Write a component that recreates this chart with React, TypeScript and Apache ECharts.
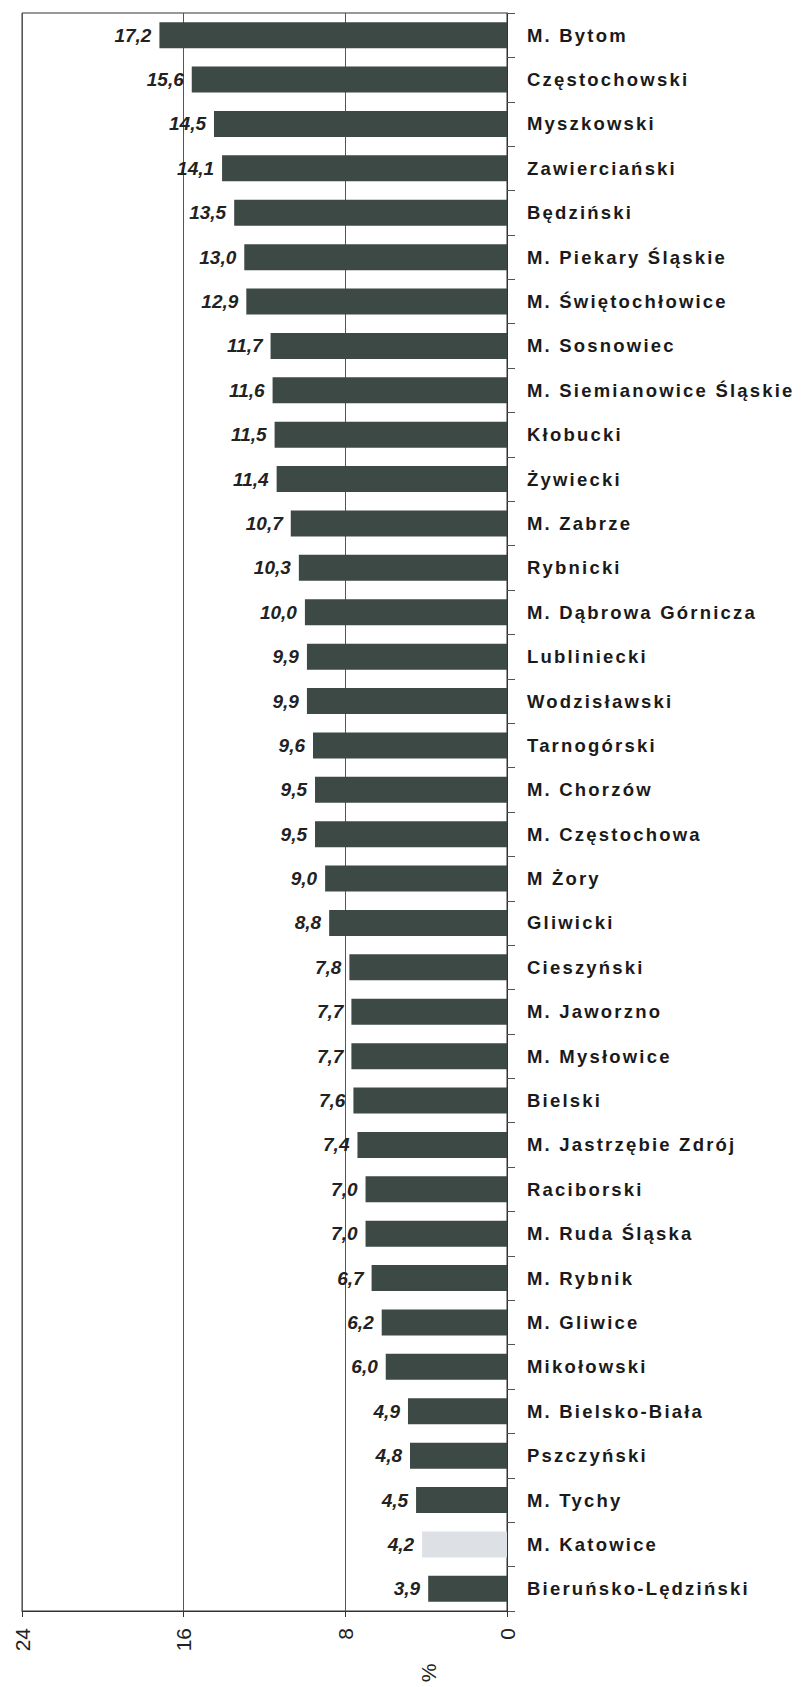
import React, { useEffect, useRef } from "react";
import * as echarts from "echarts";

const categories: string[] = [
  "M. Bytom",
  "Częstochowski",
  "Myszkowski",
  "Zawierciański",
  "Będziński",
  "M. Piekary Śląskie",
  "M. Świętochłowice",
  "M. Sosnowiec",
  "M. Siemianowice Śląskie",
  "Kłobucki",
  "Żywiecki",
  "M. Zabrze",
  "Rybnicki",
  "M. Dąbrowa Górnicza",
  "Lubliniecki",
  "Wodzisławski",
  "Tarnogórski",
  "M. Chorzów",
  "M. Częstochowa",
  "M Żory",
  "Gliwicki",
  "Cieszyński",
  "M. Jaworzno",
  "M. Mysłowice",
  "Bielski",
  "M. Jastrzębie Zdrój",
  "Raciborski",
  "M. Ruda Śląska",
  "M. Rybnik",
  "M. Gliwice",
  "Mikołowski",
  "M. Bielsko-Biała",
  "Pszczyński",
  "M. Tychy",
  "M. Katowice",
  "Bieruńsko-Lędziński",
];

const values: number[] = [
  17.2, 15.6, 14.5, 14.1, 13.5, 13.0, 12.9, 11.7, 11.6, 11.5, 11.4, 10.7, 10.3,
  10.0, 9.9, 9.9, 9.6, 9.5, 9.5, 9.0, 8.8, 7.8, 7.7, 7.7, 7.6, 7.4, 7.0, 7.0,
  6.7, 6.2, 6.0, 4.9, 4.8, 4.5, 4.2, 3.9,
];

const xTicks = { min: 0, max: 24, interval: 8 };
const highlightedCategory = "M. Katowice";
const axisName = "%";

export default function App() {
  const ref = useRef<HTMLDivElement>(null);

  useEffect(() => {
    if (!ref.current) return;
    const chart = echarts.init(ref.current, undefined, { renderer: "svg" });
    const barColor = "#3d4944";
    const lightColor = "#dde0e4";
    chart.setOption({
      animation: false,
      backgroundColor: "#ffffff",
      grid: {
        left: 22,
        right: 296,
        top: 13,
        bottom: 76,
        show: true,
        borderColor: "#333",
        borderWidth: 1,
        containLabel: false,
      },
      xAxis: {
        type: "value",
        inverse: true,
        min: xTicks.min,
        max: xTicks.max,
        interval: xTicks.interval,
        axisLine: { show: true, lineStyle: { color: "#333", width: 1 } },
        axisTick: { show: true, length: 6, lineStyle: { color: "#333" } },
        splitLine: { show: true, lineStyle: { color: "#555", width: 1 } },
        axisLabel: {
          rotate: 90,
          margin: 17,
          fontFamily: "Liberation Sans",
          fontSize: 21,
          color: "#222",
        },
      },
      yAxis: {
        type: "category",
        inverse: true,
        position: "right",
        data: categories,
        axisLine: { show: true, lineStyle: { color: "#333", width: 1 } },
        axisTick: { show: true, length: 8, lineStyle: { color: "#555" } },
        axisLabel: {
          margin: 20,
          fontFamily: "Liberation Sans",
          fontWeight: "bold",
          fontSize: 18.5,
          color: "#1a1a1a",
        },
      },
      series: [
        {
          type: "bar",
          barWidth: 26,
          data: values.map((v, i) => ({
            value: v,
            itemStyle: {
              color: categories[i] === highlightedCategory ? lightColor : barColor,
            },
          })),
          label: {
            show: true,
            position: "left",
            distance: 8,
            fontFamily: "Liberation Sans",
            fontWeight: "bold",
            fontStyle: "italic",
            fontSize: 19,
            color: "#222",
            formatter: (p: any) => Number(p.value).toFixed(1).replace(".", ","),
          },
        },
      ],
      graphic: [
        {
          type: "text",
          x: 428,
          y: 1673,
          rotation: Math.PI / 2,
          style: {
            text: axisName,
            fontFamily: "Liberation Sans",
            fontSize: 21,
            fill: "#222",
            textAlign: "center",
            textVerticalAlign: "middle",
          },
        },
      ],
    });

    const catSet = new Set(categories);
    const applySpacing = () => {
      if (!ref.current) return;
      ref.current.querySelectorAll("text").forEach((t) => {
        if (catSet.has((t.textContent || "").trim())) {
          t.setAttribute("letter-spacing", "2.2");
        }
      });
    };
    chart.on("finished", applySpacing);
    applySpacing();
    const timer = setTimeout(applySpacing, 50);

    return () => {
      clearTimeout(timer);
      chart.dispose();
    };
  }, []);

  return (
    <div
      ref={ref}
      style={{ position: "fixed", left: 0, top: 0, width: 803, height: 1687 }}
    />
  );
}
